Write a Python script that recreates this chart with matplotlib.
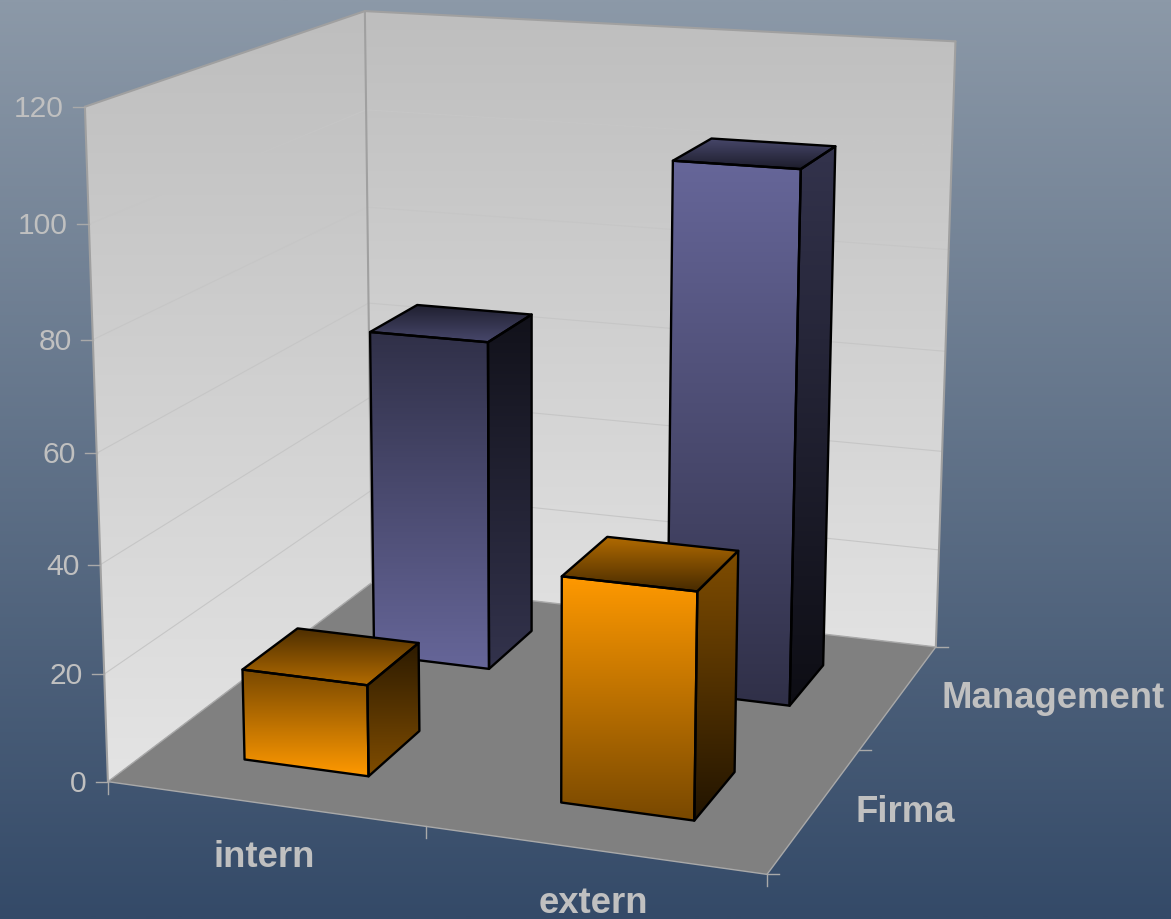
import numpy as np
import matplotlib
matplotlib.use("Agg")
import matplotlib.pyplot as plt
from matplotlib.patches import Polygon
from matplotlib.colors import LinearSegmentedColormap

plt.rcParams['font.family'] = ['Liberation Sans', 'DejaVu Sans']

W, H = 1171, 920

# data
xLabels = ['intern', 'extern']
rowLabels = ['Firma', 'Management']
firmaValues = [17, 41]
managementValues = [65, 102]
zTicks = [0, 20, 40, 60, 80, 100, 120]

ZMAX = 120
BAR = 0.2      # bar footprint, in fractions of the floor
ORANGE = '#ff9900'
PURPLE = '#666699'

# camera: floor/wall positions (x, y, z) -> pixel, solved into one 3x4 matrix
anchors = [
    ((0, 0, 0), (108, 781)), ((1, 0, 0), (767, 876)), ((1, 1, 0), (936, 645)),
    ((0, 1, 0), (371, 585)), ((0, 0, 120), (85, 107)), ((0, 1, 120), (365, 11)),
    ((1, 1, 120), (955, 42)), ((.5, 0, 0), (426, 828)), ((1, .5, 0), (858, 750)),
    ((0, 0, 20), (105, 674)), ((0, 0, 40), (101, 565)), ((0, 0, 60), (97, 452)),
    ((0, 0, 80), (93, 338)), ((0, 0, 100), (88, 225)), ((1, 1, 100), (952, 146)),
    ((1, 1, 80), (949, 250)), ((1, 1, 60), (946, 352)), ((1, 1, 40), (943, 452)),
    ((1, 1, 20), (939, 549)), ((0, 1, 100), (366, 109)), ((0, 1, 80), (367, 208)),
    ((.85, .15, 0), (694, 821)), ((.65, .15, 0), (560, 802)), ((.35, .15, 0), (368, 777)),
    ((.15, .15, 0), (245, 759)), ((.85, .65, 0), (790, 705)), ((.35, .65, 0), (490, 667)),
]
rows = []
for (x, y, z), (u, v) in anchors:
    z = z / ZMAX
    rows.append([x, y, z, 1, 0, 0, 0, 0, -u*x, -u*y, -u*z, -u])
    rows.append([0, 0, 0, 0, x, y, z, 1, -v*x, -v*y, -v*z, -v])
camera = np.linalg.svd(np.array(rows, float))[2][-1].reshape(3, 4)


def project(x, y, z):
    h = camera @ np.array([x, y, z / ZMAX, 1])
    return h[0] / h[2], h[1] / h[2] + 1


def shade(color, f):
    return tuple(c * f for c in matplotlib.colors.to_rgb(color))


def gradientFace(ax, pts, top, bottom, zorder):
    # fill a polygon with a vertical gradient, top colour to bottom colour
    pts = np.array(pts)
    cmap = LinearSegmentedColormap.from_list('face', [top, bottom])
    grad = np.linspace(0, 1, 256).reshape(-1, 1)
    im = ax.imshow(grad, cmap=cmap, aspect='auto', zorder=zorder, interpolation='bilinear',
                   extent=(pts[:, 0].min(), pts[:, 0].max(), pts[:, 1].max(), pts[:, 1].min()))
    clip = Polygon(pts, closed=True, transform=ax.transData, facecolor='none', edgecolor='none')
    ax.add_patch(clip)
    im.set_clip_path(clip)


def drawBar(ax, x0, y0, value, color, darkTop, zorder):
    x1, y1 = x0 + BAR, y0 + BAR
    front = [project(x0, y0, 0), project(x1, y0, 0), project(x1, y0, value), project(x0, y0, value)]
    side = [project(x1, y0, 0), project(x1, y1, 0), project(x1, y1, value), project(x1, y0, value)]
    lid = [project(x0, y0, value), project(x1, y0, value), project(x1, y1, value), project(x0, y1, value)]
    # the left column is lit from below, the right one from above
    if darkTop:
        gradientFace(ax, front, shade(color, .47), shade(color, 1), zorder)
        gradientFace(ax, side, shade(color, .17), shade(color, .5), zorder)
        gradientFace(ax, lid, shade(color, .3), shade(color, .7), zorder)
    else:
        gradientFace(ax, front, shade(color, 1), shade(color, .47), zorder)
        gradientFace(ax, side, shade(color, .5), shade(color, .13), zorder)
        gradientFace(ax, lid, shade(color, .7), shade(color, .28), zorder)
    for face in (front, side, lid):
        ax.add_patch(Polygon(face, closed=True, facecolor='none', edgecolor='black',
                             linewidth=1.7, joinstyle='round', zorder=zorder + .1))


fig = plt.figure(figsize=(W / 100, H / 100), dpi=100)
ax = fig.add_axes([0, 0, 1, 1])
ax.set_axis_off()

# background
bg = LinearSegmentedColormap.from_list('bg', ['#8c99a8', '#344a68'])
ax.imshow(np.linspace(0, 1, 512).reshape(-1, 1), cmap=bg, aspect='auto', extent=(0, W, H, 0), zorder=0)

# walls and floor
leftWall = [project(0, 0, 0), project(0, 1, 0), project(0, 1, ZMAX), project(0, 0, ZMAX)]
backWall = [project(0, 1, 0), project(1, 1, 0), project(1, 1, ZMAX), project(0, 1, ZMAX)]
floorPoly = [project(0, 0, 0), project(1, 0, 0), project(1, 1, 0), project(0, 1, 0)]
gradientFace(ax, leftWall, '#bebebe', '#e4e4e4', 1)
gradientFace(ax, backWall, '#bebebe', '#e2e2e2', 1)
ax.add_patch(Polygon(floorPoly, closed=True, facecolor='#808080', edgecolor='none', zorder=2))

GRID = '#c6c6c6'
for z in zTicks[1:-1]:
    pts = np.array([project(0, 0, z), project(0, 1, z), project(1, 1, z)])
    ax.plot(pts[:, 0], pts[:, 1], color=GRID, lw=.8, zorder=2.5)

# frame lines: heavier on the walls, thin around the floor
for a, b in [((0, 0, 0), (0, 0, ZMAX)), ((0, 1, 0), (0, 1, ZMAX)), ((1, 1, 0), (1, 1, ZMAX)),
             ((0, 0, ZMAX), (0, 1, ZMAX)), ((0, 1, ZMAX), (1, 1, ZMAX))]:
    pts = np.array([project(*a), project(*b)])
    ax.plot(pts[:, 0], pts[:, 1], color='#a0a0a0', lw=1.5, zorder=3, solid_capstyle='round')
for a, b in [((0, 0, 0), (1, 0, 0)), ((1, 0, 0), (1, 1, 0)), ((0, 0, 0), (0, 1, 0)), ((0, 1, 0), (1, 1, 0))]:
    pts = np.array([project(*a), project(*b)])
    ax.plot(pts[:, 0], pts[:, 1], color='#a9a9a9', lw=1, zorder=3, solid_capstyle='round')

# ticks and labels
TICK = '#a9a9a9'
TEXT = '#c0c0c0'
for z in zTicks:
    u, v = project(0, 0, z)
    ax.plot([u - 12, u], [v, v], color=TICK, lw=1, zorder=3)
    ax.text(u - 21, v + 1, str(z), ha='right', va='center', fontsize=21.6, color=TEXT, zorder=6)
for x in [0, .5, 1]:
    u, v = project(x, 0, 0)
    ax.plot([u, u], [v, v + 12], color=TICK, lw=1, zorder=3)
for y in [0, .5, 1]:
    u, v = project(1, y, 0)
    ax.plot([u, u + 12], [v, v], color=TICK, lw=1, zorder=3)
for i, name in enumerate(xLabels):
    u, v = project(.25 + .5 * i, 0, 0)
    ax.text(u, v + 53, name, ha='center', va='center', fontsize=26.3, fontweight='bold', color=TEXT, zorder=6)
rowAnchor = [(855, 813), (941, 699)]
for name, (u, v) in zip(rowLabels, rowAnchor):
    ax.text(u, v, name, ha='left', va='center', fontsize=26.3, fontweight='bold', color=TEXT, zorder=6)

# bars, back row first so the front row covers it
for i, value in enumerate(managementValues):
    drawBar(ax, .15 + .5 * i, .65, value, PURPLE, i == 0, 4 + i * .2)
for i, value in enumerate(firmaValues):
    drawBar(ax, .15 + .5 * i, .15, value, ORANGE, i == 0, 5 + i * .2)

ax.set_xlim(0, W)
ax.set_ylim(H, 0)
fig.savefig('out.png', dpi=100)
